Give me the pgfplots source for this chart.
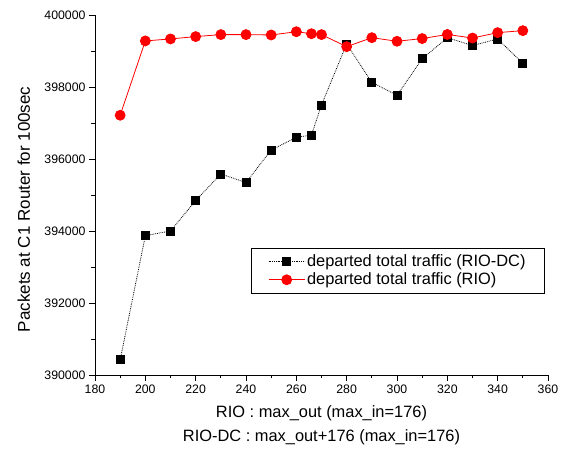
\documentclass[border=0pt]{standalone}
\usepackage{fontspec}
\setmainfont{Liberation Sans}
\usepackage{pgfplots}
\pgfplotsset{compat=1.18}
\definecolor{rioc}{RGB}{255,0,0}

\begin{document}
\begin{tikzpicture}
\path[use as bounding box] (-95pt,-79pt) rectangle (475pt,375pt);
\begin{axis}[
  at={(0,0)}, anchor=south west,
  width=453pt, height=360pt, scale only axis,
  xmin=180, xmax=360, ymin=390000, ymax=400000,
  axis lines=left, axis line style={-, line width=0.8pt},
  xtick distance=20, ytick distance=2000, minor tick num=1,
  tick align=outside, major tick length=6pt, minor tick length=3.5pt,
  tick style={black, line width=0.8pt},
  scaled y ticks=false,
  /pgf/number format/.cd, fixed, 1000 sep={}, assume math mode=true, /pgfplots/.cd,
  tick label style={font=\fontsize{12.3}{14}\selectfont},
  xlabel={RIO : max\_out (max\_in=176)\\RIO-DC : max\_out+176 (max\_in=176)},
  xlabel style={align=center, font=\fontsize{16.4}{23.5}\selectfont,
    at={(axis description cs:0.5,-0.139)}, anchor=center},
  ylabel={Packets at C1 Router for 100sec},
  ylabel style={font=\fontsize{17}{20}\selectfont,
    at={(axis description cs:-0.157,0.46)}, anchor=center},
  legend cell align=left,
  legend style={at={(0.993,0.353)}, anchor=north east, draw=black,
    line width=0.6pt, font=\fontsize{16.4}{19}\selectfont,
    inner xsep=17pt, inner ysep=4.5pt, row sep=1pt},
  legend image code/.code={
    \draw[mark repeat=2, mark phase=2, #1]
      plot coordinates {(0pt,0pt) (18pt,0pt) (36pt,0pt)};},
]
% RIO-DC
\addplot[black, densely dotted, line width=0.8pt, mark=square*,
  mark size=4pt, mark options={solid, fill=black}]
  coordinates {
  (190,390420) (200,393870) (210,394000) (220,394845) (230,395585)
  (240,395345) (250,396250) (260,396600) (266,396665) (270,397500)
  (280,399195) (290,398130) (300,397770) (310,398785) (320,399370)
  (330,399150) (340,399335) (350,398655)
  };
\addlegendentry{departed total traffic (RIO-DC)}
% RIO
\addplot[rioc, solid, line width=0.8pt, mark=*, mark size=5pt,
  mark options={fill=rioc, draw=rioc}]
  coordinates {
  (190,397215) (200,399280) (210,399335) (220,399400) (230,399455)
  (240,399455) (250,399445) (260,399535) (266,399480) (270,399455)
  (280,399120) (290,399370) (300,399270) (310,399345) (320,399460)
  (330,399360) (340,399510) (350,399565)
  };
\addlegendentry{departed total traffic (RIO)}
\end{axis}
\end{tikzpicture}
\end{document}
